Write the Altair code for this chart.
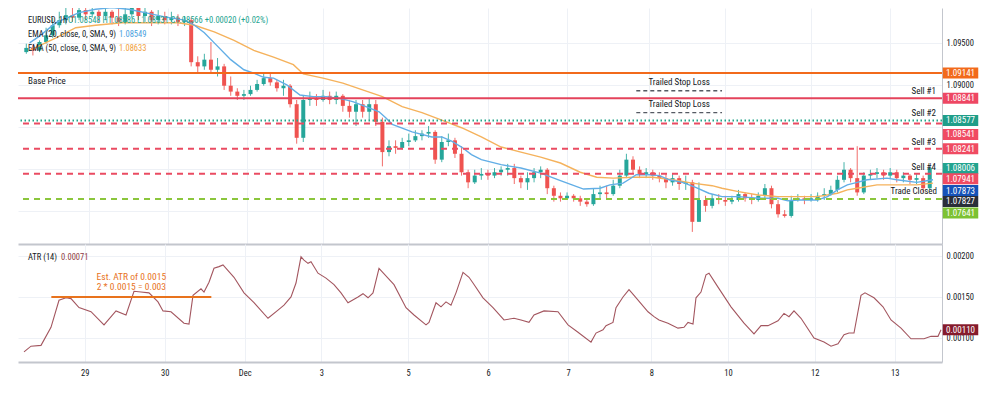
import altair as alt
import pandas as pd

# ---------------- data ----------------
# time axis, in hours from the left edge of the chart (hourly EURUSD, weekend gap removed)
tick_hours = [20, 44, 68, 91, 117, 141, 165, 190, 213, 239, 263]
tick_labels = ["29", "30", "Dec", "3", "5", "6", "7", "8", "10", "12", "13"]

# 2-hour candles (open of each bar = previous close)
first_open = 1.0939
closes = [1.0944, 1.0941, 1.0951, 1.0959, 1.0971, 1.0977, 1.0983, 1.0980, 1.0989, 1.0984,
          1.0987, 1.0982, 1.0987, 1.0980, 1.0975, 1.0984, 1.0992, 1.0982, 1.0987, 1.0977,
          1.0982, 1.0977, 1.0980, 1.0975, 1.0977, 1.0927, 1.0922, 1.0930, 1.0918, 1.0922,
          1.0899, 1.0892, 1.0887, 1.0889, 1.0894, 1.0901, 1.0908, 1.0903, 1.0896, 1.0899,
          1.0877, 1.0837, 1.0882, 1.0884, 1.0882, 1.0887, 1.0882, 1.0887, 1.0875, 1.0868,
          1.0877, 1.0868, 1.0877, 1.0856, 1.0820, 1.0827, 1.0825, 1.0832, 1.0834, 1.0839,
          1.0842, 1.0844, 1.0811, 1.0832, 1.0834, 1.0818, 1.0796, 1.0784, 1.0792, 1.0794,
          1.0792, 1.0796, 1.0799, 1.0801, 1.0789, 1.0784, 1.0789, 1.0796, 1.0799, 1.0777,
          1.0768, 1.0765, 1.0768, 1.0765, 1.0761, 1.0758, 1.0770, 1.0772, 1.0770, 1.0780,
          1.0792, 1.0811, 1.0799, 1.0794, 1.0796, 1.0792, 1.0789, 1.0784, 1.0789, 1.0782,
          1.0784, 1.0737, 1.0763, 1.0756, 1.0765, 1.0763, 1.0761, 1.0763, 1.0770, 1.0765,
          1.0763, 1.0768, 1.0777, 1.0758, 1.0746, 1.0744, 1.0763, 1.0765, 1.0763, 1.0765,
          1.0768, 1.0770, 1.0775, 1.0787, 1.0799, 1.0789, 1.0772, 1.0792, 1.0794, 1.0796,
          1.0792, 1.0796, 1.0789, 1.0792, 1.0787, 1.0789, 1.0777, 1.0801]
highs = [1.0949, 1.0947, 1.0953, 1.0968, 1.0980, 1.0987, 1.0992, 1.0994, 1.0996, 1.0992,
         1.0994, 1.0989, 1.0993, 1.0989, 1.0992, 1.0994, 1.0999, 1.0996, 1.0994, 1.0989,
         1.0989, 1.0987, 1.0987, 1.0984, 1.0982, 1.0980, 1.0934, 1.0937, 1.0951, 1.0932,
         1.0925, 1.0910, 1.0896, 1.0894, 1.0899, 1.0906, 1.0913, 1.0913, 1.0906, 1.0906,
         1.0901, 1.0882, 1.0887, 1.0892, 1.0889, 1.0894, 1.0892, 1.0892, 1.0889, 1.0882,
         1.0882, 1.0882, 1.0884, 1.0882, 1.0861, 1.0834, 1.0834, 1.0837, 1.0842, 1.0846,
         1.0846, 1.0851, 1.0846, 1.0839, 1.0842, 1.0837, 1.0827, 1.0799, 1.0799, 1.0801,
         1.0799, 1.0801, 1.0803, 1.0806, 1.0806, 1.0792, 1.0796, 1.0801, 1.0803, 1.0801,
         1.0780, 1.0772, 1.0772, 1.0770, 1.0768, 1.0765, 1.0777, 1.0780, 1.0780, 1.0787,
         1.0799, 1.0818, 1.0815, 1.0803, 1.0801, 1.0799, 1.0796, 1.0794, 1.0794, 1.0792,
         1.0792, 1.0787, 1.0784, 1.0768, 1.0770, 1.0770, 1.0768, 1.0768, 1.0775, 1.0772,
         1.0770, 1.0772, 1.0782, 1.0780, 1.0763, 1.0751, 1.0768, 1.0770, 1.0768, 1.0770,
         1.0772, 1.0777, 1.0780, 1.0792, 1.0808, 1.0801, 1.0827, 1.0796, 1.0799, 1.0801,
         1.0799, 1.0801, 1.0799, 1.0796, 1.0794, 1.0794, 1.0792, 1.0803]
lows = [1.0937, 1.0935, 1.0939, 1.0949, 1.0956, 1.0968, 1.0972, 1.0975, 1.0977, 1.0977,
        1.0980, 1.0975, 1.0977, 1.0972, 1.0970, 1.0972, 1.0980, 1.0977, 1.0975, 1.0970,
        1.0972, 1.0972, 1.0972, 1.0970, 1.0970, 1.0922, 1.0915, 1.0918, 1.0913, 1.0910,
        1.0894, 1.0887, 1.0882, 1.0882, 1.0887, 1.0892, 1.0899, 1.0899, 1.0892, 1.0887,
        1.0873, 1.0830, 1.0832, 1.0875, 1.0875, 1.0880, 1.0877, 1.0877, 1.0868, 1.0861,
        1.0851, 1.0861, 1.0858, 1.0851, 1.0803, 1.0815, 1.0818, 1.0823, 1.0827, 1.0832,
        1.0834, 1.0837, 1.0806, 1.0808, 1.0827, 1.0813, 1.0792, 1.0777, 1.0782, 1.0787,
        1.0787, 1.0789, 1.0792, 1.0792, 1.0782, 1.0777, 1.0775, 1.0784, 1.0789, 1.0770,
        1.0761, 1.0761, 1.0763, 1.0761, 1.0756, 1.0755, 1.0756, 1.0765, 1.0765, 1.0768,
        1.0777, 1.0789, 1.0794, 1.0789, 1.0789, 1.0787, 1.0784, 1.0777, 1.0780, 1.0775,
        1.0775, 1.0725, 1.0737, 1.0749, 1.0753, 1.0758, 1.0756, 1.0758, 1.0761, 1.0761,
        1.0758, 1.0761, 1.0763, 1.0753, 1.0742, 1.0742, 1.0742, 1.0761, 1.0758, 1.0761,
        1.0761, 1.0763, 1.0768, 1.0772, 1.0784, 1.0784, 1.0768, 1.0770, 1.0787, 1.0789,
        1.0787, 1.0789, 1.0784, 1.0784, 1.0782, 1.0782, 1.0772, 1.0775]

ema20_hours = [2, 5, 10, 17, 22, 27, 32, 37, 43, 49, 52, 55, 58, 63, 67, 70, 73, 76, 80, 84,
               88, 92, 96, 100, 104, 108, 110, 112, 118, 124, 127, 130, 133, 136, 139, 145, 151, 157, 163, 170,
               175, 178, 182, 184, 186, 190, 193, 196, 200, 204, 208, 212, 217, 223, 229, 232, 235, 241, 244, 247,
               250, 253, 256, 262, 265, 271, 276]
ema20_values = [1.0950, 1.0958, 1.0974, 1.0986, 1.0990, 1.0992, 1.0990, 1.0986, 1.0981, 1.0977,
                1.0971, 1.0962, 1.0950, 1.0930, 1.0918, 1.0914, 1.0909, 1.0908, 1.0900, 1.0888,
                1.0886, 1.0886, 1.0884, 1.0880, 1.0874, 1.0868, 1.0861, 1.0853, 1.0844, 1.0838,
                1.0838, 1.0833, 1.0826, 1.0817, 1.0811, 1.0805, 1.0801, 1.0795, 1.0786, 1.0776,
                1.0777, 1.0781, 1.0783, 1.0788, 1.0793, 1.0793, 1.0792, 1.0787, 1.0784, 1.0778,
                1.0771, 1.0767, 1.0767, 1.0765, 1.0765, 1.0762, 1.0763, 1.0763, 1.0767, 1.0775,
                1.0781, 1.0784, 1.0787, 1.0789, 1.0787, 1.0784, 1.0787]

ema50_hours = [2, 10, 16, 22, 30, 39, 47, 52, 58, 64, 70, 76, 82, 85, 91, 97, 103, 109, 115, 121,
               127, 133, 139, 145, 151, 157, 163, 169, 174, 179, 185, 191, 197, 203, 209, 212, 217, 223, 229, 235,
               241, 247, 250, 253, 259, 265, 271, 276]
ema50_values = [1.0941, 1.0956, 1.0968, 1.0971, 1.0974, 1.0974, 1.0974, 1.0971, 1.0963, 1.0953,
                1.0941, 1.0933, 1.0924, 1.0913, 1.0908, 1.0902, 1.0894, 1.0886, 1.0874, 1.0867,
                1.0858, 1.0849, 1.0838, 1.0826, 1.0820, 1.0814, 1.0807, 1.0796, 1.0790, 1.0789,
                1.0790, 1.0790, 1.0787, 1.0783, 1.0780, 1.0777, 1.0773, 1.0769, 1.0767, 1.0767,
                1.0767, 1.0771, 1.0775, 1.0777, 1.0781, 1.0781, 1.0781, 1.0783]

atr_hours = [1.8, 3.9, 6.9, 9.9, 12.3, 14.4, 15.9, 18.3, 21.9, 25.8,
             29.4, 32.4, 34.8, 36.9, 39.3, 42, 43.5, 45.9, 49.8, 51.3,
             52.5, 54.9, 55.8, 57.3, 58.8, 60.3, 61.5, 64.8, 67.8, 70.8,
             75, 78, 79.8, 81.9, 83.4, 84.9, 85.8, 87, 87.9, 90,
             92.4, 94.8, 96.9, 99, 102, 103.5, 105, 106.5, 108.3, 111,
             112.8, 116.4, 118.8, 122.4, 123.3, 125.4, 126.9, 128.4, 129.9, 131.4,
             133.5, 135.3, 136.5, 139.5, 142.5, 145.8, 148.8, 150.9, 153.3, 154.8,
             157.8, 162, 165, 168, 171.9, 173.4, 175.5, 176.4, 178.5, 179.4,
             181.5, 183.3, 184.8, 189, 190.8, 192.3, 195, 198, 199.8, 201,
             202.5, 203.4, 204.9, 206.4, 207.3, 210, 213.9, 217.8, 220.8, 222.9,
             225, 228, 229.8, 231.3, 232.8, 234.9, 238.8, 241.8, 243.9, 246,
             247.8, 249.3, 250.8, 252.9, 254.1, 256.8, 259.5, 261.9, 264.9, 267.9,
             271.8, 273.9, 276, 276.9]
atr_values = [0.00083, 0.00090, 0.00091, 0.00113, 0.00146, 0.00149, 0.00148, 0.00137, 0.00132, 0.00116,
              0.00133, 0.00128, 0.00157, 0.00156, 0.00155, 0.00144, 0.00133, 0.00132, 0.00118, 0.00117,
              0.00152, 0.00160, 0.00156, 0.00168, 0.00185, 0.00187, 0.00189, 0.00174, 0.00155, 0.00143,
              0.00124, 0.00134, 0.00140, 0.00150, 0.00167, 0.00199, 0.00195, 0.00191, 0.00193, 0.00179,
              0.00173, 0.00165, 0.00155, 0.00143, 0.00150, 0.00154, 0.00149, 0.00155, 0.00185, 0.00173,
              0.00165, 0.00137, 0.00128, 0.00116, 0.00119, 0.00143, 0.00138, 0.00144, 0.00140, 0.00155,
              0.00180, 0.00174, 0.00167, 0.00149, 0.00137, 0.00122, 0.00124, 0.00122, 0.00119, 0.00128,
              0.00133, 0.00132, 0.00116, 0.00107, 0.00095, 0.00106, 0.00110, 0.00115, 0.00119, 0.00137,
              0.00150, 0.00159, 0.00152, 0.00132, 0.00126, 0.00122, 0.00118, 0.00112, 0.00113, 0.00119,
              0.00117, 0.00149, 0.00156, 0.00177, 0.00179, 0.00162, 0.00138, 0.00118, 0.00105, 0.00115,
              0.00115, 0.00121, 0.00130, 0.00126, 0.00133, 0.00124, 0.00100, 0.00095, 0.00090, 0.00093,
              0.00104, 0.00106, 0.00106, 0.00152, 0.00155, 0.00149, 0.00138, 0.00122, 0.00112, 0.00099,
              0.00099, 0.00102, 0.00102, 0.00110]

base_price = 1.09141
sell1_price = 1.08841
teal_price = 1.08577
red_dashed_prices = [1.08541, 1.08241, 1.07941]
closed_price = 1.07641
sell_label_prices = [1.08841, 1.08577, 1.08241, 1.07941]
sell_label_texts = ["Sell #1", "Sell #2", "Sell #3", "Sell #4"]
stop_prices = [1.0893, 1.0867]
stop_from_hour, stop_to_hour = 186, 212

box_prices = [1.09141, 1.08841, 1.08577, 1.08541, 1.08241, 1.08006, 1.07941, 1.07873, 1.07827, 1.07641]
box_texts = ["1.09141", "1.08841", "1.08577", "1.08541", "1.08241", "1.08006", "1.07941", "1.07873", "1.07827", "1.07641"]

est_atr = 0.0015
est_from_hour, est_to_hour = 10, 58
atr_last = 0.00110

# ---------------- styles ----------------
W, H1, H2 = 924, 236, 118
X_DOMAIN = [0, 277.2]
P_DOMAIN = [1.07106, 1.09915]
A_DOMAIN = [0.000707, 0.002146]
UP, DN = "#26a69a", "#ef5350"
FONT = "Liberation Sans Narrow, Arial Narrow, Roboto Condensed, Roboto"
DARK = "#131722"
GRID = "#eef1f6"
SEP = "#c3c6cd"
box_colors = ["#f26a1b", "#ee4763", "#1f9e89", "#f04b62", "#f04b62", "#22a38f", "#f04b62", "#1652b8", "#2a2e39", "#7dc232"]
box_shift_px = [0, 0, 0, 11, 0, 0, 5, 11, 18, 14]
BOX_SHAPE = "M-1,-0.31L1,-0.31L1,0.31L-1,0.31Z"
BOX_X = 942.5
BOX_SIZE = 1260

xs = alt.Scale(domain=X_DOMAIN, nice=False, zero=False)
ps = alt.Scale(domain=P_DOMAIN, nice=False, zero=False)
ats = alt.Scale(domain=A_DOMAIN, nice=False, zero=False)

label_expr = "".join(f"datum.value == {h} ? '{l}' : " for h, l in zip(tick_hours, tick_labels)) + "''"

top_x_axis = alt.Axis(values=tick_hours, grid=True, gridColor=GRID, labels=False, ticks=False,
                      domain=True, domainColor=SEP, domainWidth=2, title=None)
price_axis = alt.Axis(orient="right", values=[1.075, 1.08, 1.085, 1.09, 1.095], format=".5f",
                      labelExpr="datum.value > 1.0875 ? datum.label : ''",
                      grid=True, gridColor=GRID, ticks=False, domain=True, domainColor=SEP,
                      labelPadding=4, labelFontSize=8.5, labelColor=DARK, labelFont=FONT, title=None)
bot_x_axis = alt.Axis(values=tick_hours, labelExpr=label_expr, grid=True, gridColor=GRID, ticks=False,
                      domain=True, domainColor=SEP, domainWidth=2, labelPadding=6, labelFontSize=8.5,
                      labelColor=DARK, labelFont=FONT, title=None)
atr_axis = alt.Axis(orient="right", values=[0.001, 0.0015, 0.002], format=".5f", grid=True, gridColor=GRID,
                    ticks=False, domain=True, domainColor=SEP, labelPadding=4, labelFontSize=8.5,
                    labelColor=DARK, labelFont=FONT, title=None)

# ---------------- tables ----------------
opens = [first_open] + closes[:-1]
candles = pd.DataFrame({
    "h": [1 + 2 * k for k in range(len(closes))],
    "open": opens, "close": closes, "high": highs, "low": lows,
})
candles["color"] = [UP if c >= o else DN for o, c in zip(opens, closes)]

ema20 = pd.DataFrame({"h": ema20_hours, "v": ema20_values})
ema50 = pd.DataFrame({"h": ema50_hours, "v": ema50_values})
atr = pd.DataFrame({"h": atr_hours, "v": atr_values})

px_per_price = (P_DOMAIN[1] - P_DOMAIN[0]) / H1
boxes = pd.DataFrame({
    "p": [p - s * px_per_price for p, s in zip(box_prices, box_shift_px)],
    "t": box_texts, "c": box_colors,
})


# ---------------- encodings (same axis object in every layer) ----------------
def XT(field="h"):
    return alt.X(f"{field}:Q", scale=xs, axis=top_x_axis)


def XB(field="h"):
    return alt.X(f"{field}:Q", scale=xs, axis=bot_x_axis)


def P(field):
    return alt.Y(f"{field}:Q", scale=ps, axis=price_axis)


def A(field):
    return alt.Y(f"{field}:Q", scale=ats, axis=atr_axis)


# ---------------- top panel ----------------
wicks = alt.Chart(candles).mark_rule(strokeWidth=1, clip=True, opacity=0.85).encode(
    x=XT(), y=P("low"), y2="high:Q", color=alt.Color("color:N", scale=None))
bodies = alt.Chart(candles).mark_bar(size=4, clip=True).encode(
    x=XT(), y=P("open"), y2="close:Q", color=alt.Color("color:N", scale=None))
ema20_line = alt.Chart(ema20).mark_line(color="#62aee6", strokeWidth=1.4, clip=True).encode(x=XT(), y=P("v"))
ema50_line = alt.Chart(ema50).mark_line(color="#f5b25c", strokeWidth=1.4, clip=True).encode(x=XT(), y=P("v"))


def hline(prices, color, dash=None, width=2):
    kw = dict(color=color, strokeWidth=width)
    if dash:
        kw["strokeDash"] = dash
    return alt.Chart(pd.DataFrame({"p": prices})).mark_rule(**kw).encode(y=P("p"))


base_line = hline([base_price], "#f26a1b")
sell1_line = hline([sell1_price], "#e4435b")
red_lines = hline(red_dashed_prices, "#ea4b62", [6, 5])
teal_line = hline([teal_price], "#22a58a", [1.5, 2.5])
green_line = hline([closed_price], "#8bc63c", [6, 5])

stops = pd.DataFrame({"p": stop_prices, "a": stop_from_hour, "b": stop_to_hour,
                      "m": (stop_from_hour + stop_to_hour) / 2})
stop_lines = alt.Chart(stops).mark_rule(color="#555a63", strokeWidth=1.4, strokeDash=[4, 3]).encode(
    x=XT("a"), x2="b:Q", y=P("p"))
stop_text = alt.Chart(stops).mark_text(text="Trailed Stop Loss", dy=-9, fontSize=9, color=DARK,
                                       font=FONT, baseline="middle").encode(x=XT("m"), y=P("p"))

base_text = alt.Chart(pd.DataFrame({"p": [base_price]})).mark_text(
    text="Base Price", dy=8, align="left", fontSize=9, color=DARK, font=FONT, baseline="middle"
).encode(x=alt.value(10), y=P("p"))
sell_text = alt.Chart(pd.DataFrame({"p": sell_label_prices, "t": sell_label_texts})).mark_text(
    dy=-7, align="right", fontSize=9, color=DARK, font=FONT, baseline="middle"
).encode(x=alt.value(918), y=P("p"), text="t:N")
closed_text = alt.Chart(pd.DataFrame({"p": [closed_price]})).mark_text(
    text="Trade Closed", dy=-8, align="right", fontSize=9, color=DARK, font=FONT, baseline="middle"
).encode(x=alt.value(919), y=P("p"))

box_marks = alt.Chart(boxes).mark_point(shape=BOX_SHAPE, filled=True, size=BOX_SIZE, opacity=1,
                                        strokeWidth=0).encode(
    x=alt.value(BOX_X), y=P("p"), color=alt.Color("c:N", scale=None))
box_text = alt.Chart(boxes).mark_text(fontSize=9, color="white", font=FONT, baseline="middle").encode(
    x=alt.value(BOX_X), y=P("p"), text="t:N")

one = pd.DataFrame({"k": [0]})


def label(text, x, y, color=DARK, size=8.5):
    return alt.Chart(one).mark_text(text=text, align="left", baseline="middle", fontSize=size,
                                    color=color, font=FONT).encode(x=alt.value(x), y=alt.value(y))


header = [
    label("EURUSD, 1h", 10, 12),
    label("O1.08548 H1.08586 L1.08531 C1.08566 +0.00020 (+0.02%)", 50, 12, "#22a38f"),
    label("EMA (20, close, 0, SMA, 9)", 10, 26),
    label("1.08549", 101, 26, "#4a9fe0"),
    label("EMA (50, close, 0, SMA, 9)", 10, 40),
    label("1.08633", 101, 40, "#f0a040"),
]

top = alt.layer(
    wicks, bodies, ema50_line, ema20_line,
    base_line, sell1_line, teal_line, red_lines, green_line,
    stop_lines, stop_text, base_text, sell_text, closed_text,
    box_marks, box_text, *header,
).properties(width=W, height=H1)

# ---------------- ATR panel ----------------
atr_line = alt.Chart(atr).mark_line(color="#a3565f", strokeWidth=1.1).encode(x=XB(), y=A("v"))
est = pd.DataFrame({"v": [est_atr], "a": est_from_hour, "b": est_to_hour,
                    "m": (est_from_hour + est_to_hour) / 2})
est_line = alt.Chart(est).mark_rule(color="#e8731d", strokeWidth=2).encode(x=XB("a"), x2="b:Q", y=A("v"))
est_t1 = alt.Chart(est).mark_text(text="Est. ATR of 0.0015", dy=-20, fontSize=9.5, color="#e8731d",
                                  font=FONT, baseline="middle").encode(x=XB("m"), y=A("v"))
est_t2 = alt.Chart(est).mark_text(text="2 * 0.0015 = 0.003", dy=-10, fontSize=9.5, color="#e8731d",
                                  font=FONT, baseline="middle").encode(x=XB("m"), y=A("v"))
last = pd.DataFrame({"v": [atr_last], "t": ["0.00110"]})
atr_box = alt.Chart(last).mark_point(
    shape=BOX_SHAPE, filled=True, size=BOX_SIZE, opacity=1, strokeWidth=0, color="#861b2c"
).encode(x=alt.value(BOX_X), y=A("v"))
atr_box_text = alt.Chart(last).mark_text(
    fontSize=9, color="white", font=FONT, baseline="middle"
).encode(x=alt.value(BOX_X), y=A("v"), text="t:N")

bottom = alt.layer(
    atr_line, est_line, est_t1, est_t2, atr_box, atr_box_text,
    label("ATR (14)", 10, 13), label("0.00071", 43, 13, "#8e3b46"),
).properties(width=W, height=H2)

chart = alt.vconcat(top, bottom, spacing=0).properties(
    padding={"left": 9, "top": 0, "right": 5, "bottom": 0}, background="white"
).configure_view(stroke=None)

chart.save("out.html", embed_options={"renderer": "svg", "actions": False})
